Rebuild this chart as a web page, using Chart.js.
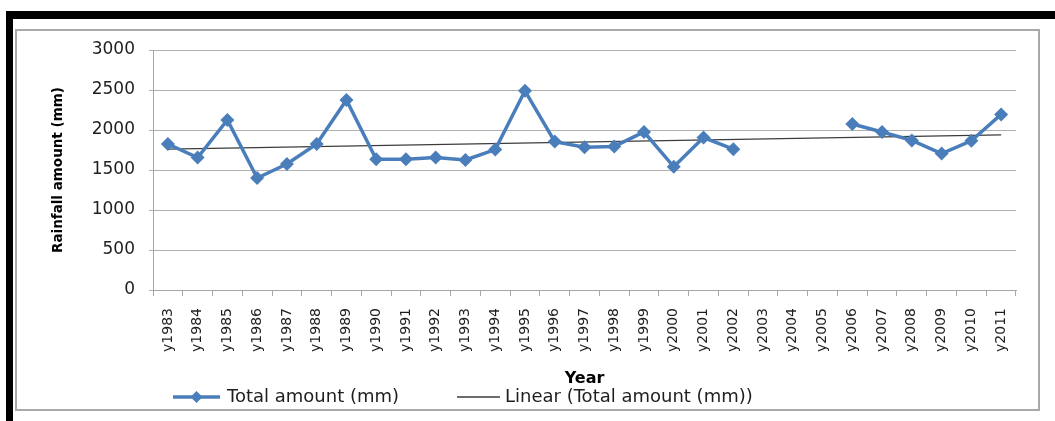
<!DOCTYPE html>
<html>
<head>
<meta charset="utf-8">
<script src="https://cdn.jsdelivr.net/npm/chart.js@4.4.0/dist/chart.umd.min.js"></script>
<style>
  html, body { margin: 0; padding: 0; background: #fff; width: 1055px; height: 421px; overflow: hidden; }
  .bar { position: absolute; background: #000; }
  #frame { position: absolute; left: 15px; top: 29px; width: 1021px; height: 378px; border: 2px solid #a9a9a9; }
  #wrap { position: absolute; left: 0; top: 0; width: 1055px; height: 421px; }
</style>
</head>
<body>
<div class="bar" style="left:6px;top:11px;width:1049px;height:8px"></div>
<div class="bar" style="left:6px;top:11px;width:7px;height:410px"></div>
<div id="frame"></div>
<div id="wrap"><canvas id="c" width="1055" height="421"></canvas></div>
<script>
// Annual rainfall totals, 1983-2011 (no record for 2003-2005)
const years = ['y1983','y1984','y1985','y1986','y1987','y1988','y1989','y1990','y1991','y1992',
               'y1993','y1994','y1995','y1996','y1997','y1998','y1999','y2000','y2001','y2002',
               'y2003','y2004','y2005','y2006','y2007','y2008','y2009','y2010','y2011'];
const totalAmount = [1825, 1655, 2125, 1400, 1575, 1825, 2375, 1635, 1635, 1655,
                     1625, 1755, 2490, 1855, 1785, 1795, 1975, 1540, 1905, 1760,
                     null, null, null, 2075, 1975, 1870, 1705, 1865, 2195];
// Linear trend: fitted values at the first and last year
const trendStart = 1760;
const trendEnd = 1940;
const yTicks = [0, 500, 1000, 1500, 2000, 2500, 3000];

const trendLine = years.map((_, i) => i === 0 ? trendStart : (i === years.length - 1 ? trendEnd : null));

const GRID = '#b0b0b0';
const AXIS = '#a6a6a6';
const TEXT = '#1e1e1e';
const FONT = "'DejaVu Sans', sans-serif";

// Legend row drawn beneath the x-axis title: line sample (+ marker) and label
const legendRow = {
  id: 'legendRow',
  afterDraw(chart) {
    const ctx = chart.ctx;
    const y = 397;
    const slots = [{ x: 173, w: 47, tx: 227 }, { x: 457, w: 43, tx: 505 }];
    chart.data.datasets.forEach((ds, i) => {
      const s = slots[i];
      ctx.save();
      ctx.strokeStyle = ds.borderColor;
      ctx.lineWidth = ds.borderWidth;
      ctx.beginPath();
      ctx.moveTo(s.x, y);
      ctx.lineTo(s.x + s.w, y);
      ctx.stroke();
      if (ds.pointRadius > 0) {
        const r = ds.pointRadius - 1;
        ctx.fillStyle = ds.pointBackgroundColor;
        ctx.beginPath();
        const cx = s.x + s.w / 2;
        ctx.moveTo(cx, y - r); ctx.lineTo(cx + r, y); ctx.lineTo(cx, y + r); ctx.lineTo(cx - r, y);
        ctx.closePath();
        ctx.fill();
      }
      ctx.fillStyle = TEXT;
      ctx.font = "18px " + FONT;
      ctx.textBaseline = 'middle';
      ctx.textAlign = 'left';
      ctx.fillText(ds.label, s.tx, y);
      ctx.restore();
    });
  }
};

new Chart(document.getElementById('c'), {
  type: 'line',
  data: {
    labels: years,
    datasets: [
      {
        label: 'Total amount (mm)',
        data: totalAmount,
        borderColor: '#4a7ebb',
        backgroundColor: '#4a7ebb',
        borderWidth: 3.5,
        pointStyle: 'rectRot',
        pointRadius: 7,
        pointBackgroundColor: '#4a7ebb',
        pointBorderColor: '#4a7ebb',
        pointBorderWidth: 0,
        spanGaps: false,
        tension: 0
      },
      {
        label: 'Linear (Total amount (mm))',
        data: trendLine,
        borderColor: '#3c3c3c',
        borderWidth: 1.3,
        pointRadius: 0,
        spanGaps: true,
        tension: 0
      }
    ]
  },
  options: {
    responsive: false,
    animation: false,
    devicePixelRatio: 1,
    layout: { padding: { left: 0, right: 39, top: 50, bottom: 32 } },
    plugins: {
      legend: { display: false },
      tooltip: { enabled: false }
    },
    scales: {
      x: {
        type: 'category',
        offset: true,
        grid: { display: true, drawOnChartArea: false, drawTicks: true, tickLength: 6, offset: true, color: AXIS },
        border: { display: true, color: AXIS, width: 1 },
        ticks: {
          autoSkip: false, minRotation: 90, maxRotation: 90, padding: 12,
          color: TEXT, font: { family: FONT, size: 14 }
        },
        title: {
          display: true, text: 'Year', color: '#000',
          font: { family: FONT, size: 16, weight: 'bold' },
          padding: { top: 0, bottom: 1 }
        },
        afterFit(scale) { scale.height = 99; }
      },
      y: {
        min: 0, max: 3000,
        afterBuildTicks(scale) { scale.ticks = yTicks.map(v => ({ value: v })); },
        grid: { color: GRID, lineWidth: 1, drawTicks: true, tickLength: 4 },
        border: { display: true, color: AXIS, width: 1 },
        ticks: {
          padding: 14, color: TEXT, font: { family: FONT, size: 17 },
          callback: v => String(v)
        },
        title: {
          display: true, text: 'Rainfall amount (mm)', color: '#000',
          font: { family: FONT, size: 13.5, weight: 'bold' },
          padding: { top: 50, bottom: 0 }
        },
        afterFit(scale) { scale.width = 153; }
      }
    }
  },
  plugins: [legendRow]
});
</script>
</body>
</html>
